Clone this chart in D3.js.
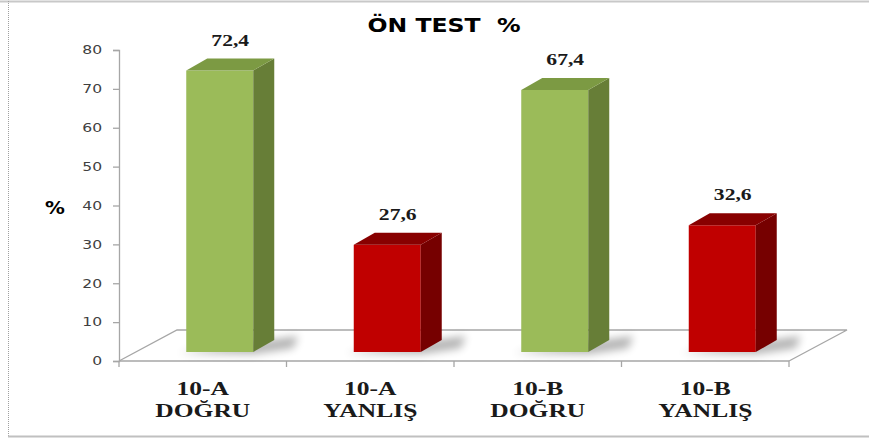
<!DOCTYPE html>
<html>
<head>
<meta charset="utf-8">
<script src="https://cdn.jsdelivr.net/npm/d3@7"></script>
<style>
	body { margin: 0; background: #fff; }
	.tick text { font-family: "DejaVu Sans", Verdana, sans-serif; font-size: 12px; fill: #404040; }
</style>
</head>
<body>
<script>
//chart data
var categories = ["10-A|DOĞRU", "10-A|YANLIŞ", "10-B|DOĞRU", "10-B|YANLIŞ"],
	values = [72.4, 27.6, 67.4, 32.6],
	valueLabels = ["72,4", "27,6", "67,4", "32,6"],
	barKind = ["green", "red", "green", "red"],
	yTicks = [0, 10, 20, 30, 40, 50, 60, 70, 80];

var colors = {
	green: {front: "#9BBB59", side: "#677E37", top: "#7C9A43"},
	red: {front: "#C00000", side: "#760000", top: "#880000"}
};

var width = 869, height = 439;
var depthX = 21, depthY = 12, lift = 9, frontW = 67;
var floorDX = 58, floorDY = 31;

var svg = d3.select("body").append("svg")
	.attr("width", width)
	.attr("height", height);

var defs = svg.append("defs");
defs.append("filter").attr("id", "blur")
	.attr("x", "-50%").attr("y", "-100%").attr("width", "200%").attr("height", "300%")
	.append("feGaussianBlur").attr("stdDeviation", 4);

//text in the original is stretched sideways, so scale it in x
function wideText(g, x, y, sx, txt, font, size, weight) {
	return g.append("text")
		.attr("transform", "translate(" + x + "," + y + ") scale(" + sx + ",1)")
		.style("text-anchor", "middle")
		.style("font-family", font)
		.style("font-weight", weight)
		.style("font-size", size + "px")
		.style("fill", "#1a1a1a")
		.style("white-space", "pre")
		.text(txt);
}
var serif = "'Liberation Serif', 'Times New Roman', serif",
	sans = "'DejaVu Sans', Verdana, sans-serif";

//borders
svg.append("line").attr("x1", 0).attr("x2", width).attr("y1", 1.5).attr("y2", 1.5)
	.style("stroke", "#c8c8c8").style("stroke-width", 2);
svg.append("line").attr("x1", 8.5).attr("x2", 8.5).attr("y1", 1).attr("y2", 437)
	.style("stroke", "#a0a0a0").style("stroke-dasharray", "1,1");
svg.append("line").attr("x1", 8).attr("x2", width).attr("y1", 436.5).attr("y2", 436.5)
	.style("stroke", "#c0c0c0").style("stroke-width", 2);

//scales
var yScale = d3.scaleLinear().domain([0, 80]).range([361, 50]);
var xScale = d3.scaleBand().domain(categories).range([119, 789]);

//floor
var x0 = xScale.range()[0], x1 = xScale.range()[1], yb = yScale(0);
svg.append("path")
	.attr("d", "M" + x0 + "," + yb + "L" + (x0 + floorDX) + "," + (yb - floorDY) +
		"L" + (x1 + floorDX) + "," + (yb - floorDY) + "L" + x1 + "," + yb)
	.style("fill", "none").style("stroke", "#a6a6a6").style("stroke-width", 1.3);

//y axis
var yAxis = d3.axisLeft(yScale).tickValues(yTicks).tickSize(6).tickPadding(7);
var gY = svg.append("g")
	.attr("transform", "translate(" + x0 + ",0)")
	.call(yAxis);
gY.select(".domain").style("stroke", "#a6a6a6").style("stroke-width", 1.3);
gY.selectAll(".tick line").style("stroke", "#a6a6a6").style("stroke-width", 1.3);
gY.selectAll(".tick text").attr("transform", "scale(1.3,1)");

//x axis
var xTickPos = d3.range(categories.length + 1).map(function(i) { return x0 + i * xScale.bandwidth(); });
svg.append("line").attr("x1", x0).attr("x2", x1).attr("y1", yb).attr("y2", yb)
	.style("stroke", "#a6a6a6").style("stroke-width", 1.3);
svg.append("g").selectAll("line")
	.data(xTickPos).enter()
		.append("line")
		.attr("x1", function(d) { return d; })
		.attr("x2", function(d) { return d; })
		.attr("y1", yb)
		.attr("y2", yb + 6)
		.style("stroke", "#a6a6a6").style("stroke-width", 1.3);

//bars
function frontX(d) { return xScale(d) + xScale.bandwidth() / 2 - 16.5; }

var bars = svg.append("g").selectAll("g")
	.data(categories).enter()
		.append("g");

//shadows
bars.append("path")
	.attr("d", function(d) {
		var x = frontX(d), b = yb - lift;
		return "M" + (x - 8) + "," + (b + 1) + "L" + (x + frontW + 45) + "," + (b - 16) +
			"L" + (x + frontW + 40) + "," + (b - 4) + "L" + (x + frontW) + "," + (b + 2) + "Z";
	})
	.style("fill", "#000").style("opacity", 0.3)
	.attr("filter", "url(#blur)");

bars.append("rect")
	.attr("x", frontX)
	.attr("y", function(d, i) { return yScale(values[i]) - lift; })
	.attr("width", frontW)
	.attr("height", function(d, i) { return yScale(0) - yScale(values[i]); })
	.style("fill", function(d, i) { return colors[barKind[i]].front; });

bars.append("path")
	.attr("d", function(d, i) {
		var x = frontX(d) + frontW, t = yScale(values[i]) - lift, b = yb - lift;
		return "M" + x + "," + t + "L" + (x + depthX) + "," + (t - depthY) +
			"L" + (x + depthX) + "," + (b - depthY) + "L" + x + "," + b + "Z";
	})
	.style("fill", function(d, i) { return colors[barKind[i]].side; });

bars.append("path")
	.attr("d", function(d, i) {
		var x = frontX(d), t = yScale(values[i]) - lift;
		return "M" + x + "," + t + "L" + (x + depthX) + "," + (t - depthY) +
			"L" + (x + frontW + depthX) + "," + (t - depthY) + "L" + (x + frontW) + "," + t + "Z";
	})
	.style("fill", function(d, i) { return colors[barKind[i]].top; });

//value labels
categories.forEach(function(d, i) {
	wideText(svg, frontX(d) + (frontW + depthX) / 2, yScale(values[i]) - lift - depthY - 13,
		1.35, valueLabels[i], serif, 16, "bold");
});

//category labels
categories.forEach(function(d) {
	var parts = d.split("|"), cx = xScale(d) + xScale.bandwidth() / 2;
	wideText(svg, cx, 395, 1.42, parts[0], serif, 18, "bold");
	wideText(svg, cx, 417, 1.42, parts[1], serif, 18, "bold");
});

//title and axis label
wideText(svg, 444, 32, 1.24, "ÖN TEST  %", sans, 19, "bold").style("fill", "#000");
wideText(svg, 55, 214, 1.1, "%", sans, 18, "bold").style("fill", "#000");
</script>
</body>
</html>
